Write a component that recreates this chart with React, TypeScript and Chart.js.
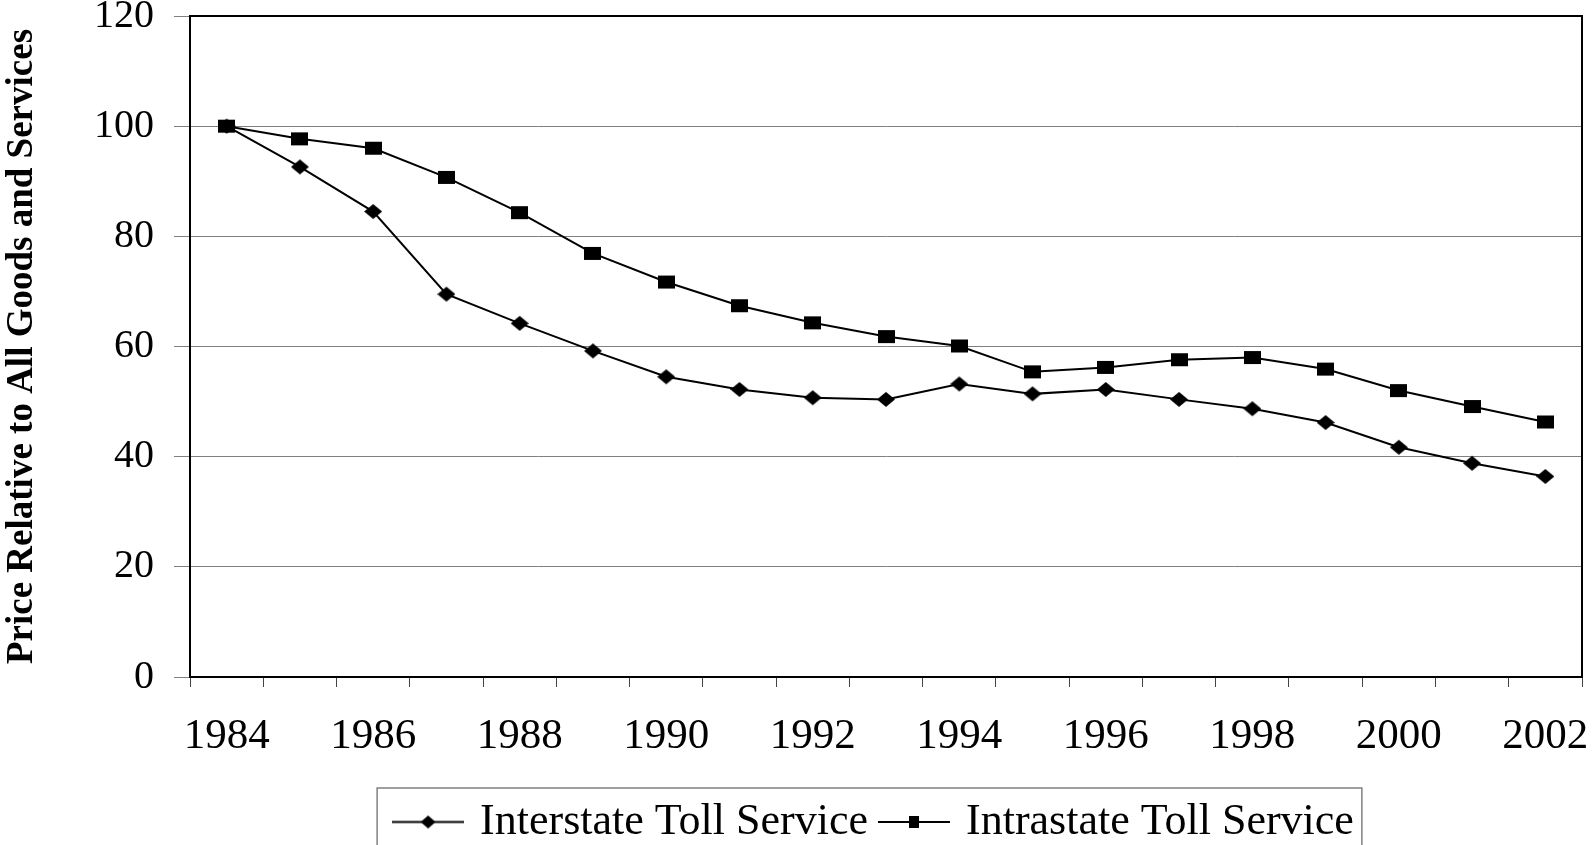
import React, { useEffect, useRef } from 'react';
import { Chart, registerables } from 'chart.js';

Chart.register(...registerables);

const years = ['1984', '1985', '1986', '1987', '1988', '1989', '1990', '1991', '1992', '1993', '1994', '1995', '1996', '1997', '1998', '1999', '2000', '2001', '2002'];
const interstate = [100, 92.6, 84.5, 69.5, 64.2, 59.2, 54.5, 52.2, 50.7, 50.4, 53.2, 51.4, 52.2, 50.4, 48.7, 46.2, 41.7, 38.8, 36.4];
const intrastate = [100, 97.7, 96.0, 90.7, 84.3, 76.9, 71.7, 67.4, 64.3, 61.8, 60.1, 55.4, 56.2, 57.6, 58.0, 55.9, 52.0, 49.1, 46.3];
const seriesNames = ['Interstate Toll Service', 'Intrastate Toll Service'];
const yAxisTitle = 'Price Relative to All Goods and Services';
const yMin = 0;
const yMax = 120;
const yStep = 20;

const FONT = 'Liberation Serif';

function makeMarker(shape: 'diamond' | 'square', w: number, h: number, lineLen = 0) {
  const cw = Math.max(w, lineLen);
  const ch = h + 2;
  const c = document.createElement('canvas');
  c.width = cw;
  c.height = ch;
  const ctx = c.getContext('2d')!;
  ctx.fillStyle = '#000';
  ctx.strokeStyle = '#000';
  const cx = cw / 2;
  const cy = ch / 2;
  if (lineLen > 0) {
    ctx.lineWidth = 2;
    ctx.beginPath();
    ctx.moveTo(0, cy);
    ctx.lineTo(lineLen, cy);
    ctx.stroke();
  }
  ctx.beginPath();
  if (shape === 'diamond') {
    ctx.moveTo(cx, cy - h / 2);
    ctx.lineTo(cx + w / 2, cy);
    ctx.lineTo(cx, cy + h / 2);
    ctx.lineTo(cx - w / 2, cy);
    ctx.closePath();
  } else {
    ctx.rect(cx - w / 2, cy - h / 2, w, h);
  }
  ctx.fill();
  return c;
}

export default function App() {
  const ref = useRef<HTMLCanvasElement | null>(null);

  useEffect(() => {
    if (!ref.current) return;
    const diamond = makeMarker('diamond', 18, 15);
    const square = makeMarker('square', 17, 13);
    const legendDiamond = makeMarker('diamond', 15, 13, 72);
    const legendSquare = makeMarker('square', 10, 12, 72);
    const legendImgs = [legendDiamond, legendSquare];

    const framePlugin = {
      id: 'frame',
      beforeDatasetsDraw(chart: any) {
        const { ctx, chartArea: a } = chart;
        ctx.save();
        ctx.strokeStyle = '#000';
        ctx.lineWidth = 2;
        ctx.strokeRect(a.left, a.top, a.right - a.left, a.bottom - a.top);
        ctx.restore();
      },
    };

    const legendShift = {
      id: 'legendShift',
      afterLayout(chart: any) {
        const lg = chart.legend;
        if (!lg) return;
        lg.left += 85;
        lg.right += 85;
        lg.top += 9;
        lg.bottom += 9;
      },
      afterDraw(chart: any) {
        const lg = chart.legend;
        if (!lg || !lg.legendHitBoxes || !lg.legendHitBoxes.length) return;
        const hb = lg.legendHitBoxes;
        const first = hb[0];
        const last = hb[hb.length - 1];
        const { ctx } = chart;
        ctx.save();
        ctx.strokeStyle = '#808080';
        ctx.lineWidth = 1.5;
        const left = first.left - 21;
        const right = last.left + last.width + 8;
        const top = first.top - 12;
        ctx.strokeRect(left, top, right - left, 120);
        ctx.restore();
      },
    };

    const chart = new Chart(ref.current, {
      type: 'line',
      data: {
        labels: years,
        datasets: [
          {
            label: seriesNames[0],
            data: interstate,
            borderColor: '#000',
            backgroundColor: '#000',
            borderWidth: 2,
            pointStyle: diamond as any,
            tension: 0,
          },
          {
            label: seriesNames[1],
            data: intrastate,
            borderColor: '#000',
            backgroundColor: '#000',
            borderWidth: 2,
            pointStyle: square as any,
            tension: 0,
          },
        ],
      },
      options: {
        responsive: false,
        animation: false,
        events: [],
        layout: { padding: { left: 0, right: 11, top: 16, bottom: 0 } },
        plugins: {
          tooltip: { enabled: false },
          legend: {
            display: true,
            position: 'bottom',
            labels: {
              usePointStyle: true,
              pointStyleWidth: 60,
              padding: 16,
              color: '#000',
              font: { family: FONT, size: 44 },
              generateLabels: () =>
                seriesNames.map((name, i) => ({
                  text: name,
                  pointStyle: legendImgs[i] as any,
                  datasetIndex: i,
                  hidden: false,
                  lineWidth: 0,
                  fillStyle: 'transparent',
                  strokeStyle: 'transparent',
                  fontColor: '#000',
                })),
            },
          },
        },
        scales: {
          x: {
            type: 'category',
            offset: true,
            grid: {
              offset: true,
              drawOnChartArea: false,
              drawTicks: true,
              tickLength: 10,
              tickColor: '#444',
              color: '#444',
            },
            border: { display: true, color: '#000', width: 2 },
            ticks: {
              autoSkip: false,
              maxRotation: 0,
              minRotation: 0,
              padding: 24,
              color: '#000',
              font: { family: FONT, size: 43 },
              callback: (_v: any, i: number) => (i % 2 === 0 ? years[i] : ''),
            },
            afterFit: (scale: any) => {
              scale.height = 98;
              scale.paddingLeft = 0;
              scale.paddingRight = 0;
            },
          },
          y: {
            min: yMin,
            max: yMax,
            grid: {
              color: '#808080',
              lineWidth: 1,
              tickLength: 16,
              tickColor: '#808080',
            },
            border: { display: true, color: '#000', width: 2 },
            ticks: {
              stepSize: yStep,
              padding: 20,
              color: '#000',
              font: { family: FONT, size: 40 },
            },
            title: {
              display: true,
              text: yAxisTitle,
              color: '#000',
              padding: 0,
              font: { family: FONT, size: 37, weight: 'bold' },
            },
            afterFit: (scale: any) => {
              scale.width = 190;
              scale.paddingTop = 0;
              scale.paddingBottom = 0;
            },
          },
        },
      },
      plugins: [framePlugin, legendShift],
    });
    return () => chart.destroy();
  }, []);

  return (
    <div style={{ position: 'fixed', left: 0, top: 0, width: '1593px', height: '845px', background: '#fff' }}>
      <canvas ref={ref} width={1593} height={845} style={{ display: 'block' }} />
    </div>
  );
}
